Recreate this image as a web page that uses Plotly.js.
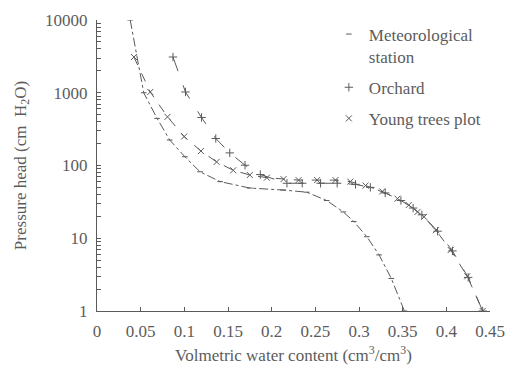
<!DOCTYPE html>
<html>
<head>
<meta charset="utf-8">
<script src="https://cdn.plot.ly/plotly-3.0.1.min.js"></script>
<style>html,body{margin:0;padding:0;background:#fff;}#chart{width:509px;height:370px;}</style>
</head>
<body>
<div id="chart"></div>
<script>
// Meteorological station
const metX = [0.038, 0.0535, 0.0688, 0.0833, 0.1006, 0.118, 0.141, 0.175, 0.213, 0.24, 0.263, 0.282, 0.294, 0.309, 0.323, 0.337, 0.352];
const metY = [10000, 1000, 444, 224, 132, 82, 60, 49, 46, 43, 33, 23, 17, 10.5, 5.9, 2.8, 1];
// Orchard
const orchX = [0.087, 0.1013, 0.1197, 0.136, 0.152, 0.1695, 0.187, 0.2175, 0.235, 0.256, 0.275, 0.296, 0.313, 0.33, 0.348, 0.362, 0.372, 0.39, 0.407, 0.425, 0.4416];
const orchY = [3100, 1025, 457, 235, 149, 101, 75, 57, 57, 57, 57, 55, 50, 42, 33, 26, 21, 12.5, 6.7, 2.9, 1];
// Young trees plot
const youngX = [0.0423, 0.061, 0.0807, 0.0998, 0.119, 0.137, 0.156, 0.175, 0.1945, 0.2136, 0.2308, 0.252, 0.273, 0.290, 0.3075, 0.3266, 0.344, 0.357, 0.367, 0.3745, 0.388, 0.405, 0.424, 0.4416];
const youngY = [3100, 1025, 466, 250, 158, 112, 86, 74, 68, 65, 63, 63, 63, 60, 53, 44, 35, 28.6, 23, 19.7, 12.9, 6.9, 3, 1];

const seriesNames = ['Meteorological<br>station', 'Orchard', 'Young trees plot'];
const xTickVals = [0, 0.05, 0.1, 0.15, 0.2, 0.25, 0.3, 0.35, 0.4, 0.45];
const xTickText = ['0', '0.05', '0.1', '0.15', '0.2', '0.25', '0.3', '0.35', '0.4', '0.45'];
const yDecades = [1, 10, 100, 1000, 10000];
const yDecadeText = ['1', '10', '100', '1000', '10000'];

const yTickVals = [], yTickText = [];
yDecades.forEach((d, i) => {
  yTickVals.push(d); yTickText.push(yDecadeText[i]);
  if (i < yDecades.length - 1) {
    for (let k = 2; k <= 9; k++) { yTickVals.push(d * k); yTickText.push(''); }
  }
});

const ink = '#5a5a5a';
const txt = '#5c5c5c';
const fontFam = '"Liberation Serif", "DejaVu Serif", serif';

const mk = (sym, sz) => ({symbol: sym, size: sz, color: ink, line: {width: 1, color: ink}});

const data = [
  {x: metX, y: metY, mode: 'lines+markers', showlegend: false,
   line: {color: ink, width: 1, dash: 'dashdot'}, marker: mk('line-ew-open', 4)},
  {x: orchX, y: orchY, mode: 'lines+markers', showlegend: false,
   line: {color: ink, width: 1, dash: 'longdash'}, marker: mk('cross-thin-open', 6)},
  {x: youngX, y: youngY, mode: 'lines+markers', showlegend: false,
   line: {color: ink, width: 1, dash: 'dash'}, marker: mk('x-thin-open', 6)},
  {x: [null], y: [null], mode: 'markers', name: seriesNames[0], legendgroup: 'a', marker: mk('line-ew-open', 4)},
  {x: [null], y: [null], mode: 'markers', name: seriesNames[1], legendgroup: 'b', marker: mk('cross-thin-open', 6)},
  {x: [null], y: [null], mode: 'markers', name: seriesNames[2], legendgroup: 'c', marker: mk('x-thin-open', 6)}
];

const layout = {
  width: 509, height: 370,
  margin: {l: 97, r: 19, t: 20, b: 59},
  paper_bgcolor: '#fff', plot_bgcolor: '#fff',
  font: {family: fontFam, size: 17, color: txt},
  showlegend: true,
  legend: {x: 0.59, xanchor: 'left', y: 1.012, yanchor: 'top', bgcolor: 'rgba(0,0,0,0)',
           traceorder: 'grouped', tracegroupgap: 6, valign: 'top', itemwidth: 30,
           font: {family: fontFam, size: 17, color: txt}},
  xaxis: {range: [0, 0.45], tickvals: xTickVals, ticktext: xTickText,
          ticks: 'inside', ticklen: 4, tickcolor: ink, showgrid: false, zeroline: false,
          showline: true, linecolor: ink, linewidth: 1, ticklabelstandoff: 5,
          tickfont: {family: fontFam, size: 17, color: txt},
          title: {text: 'Volmetric water content (cm<sup>3</sup>/cm<sup>3</sup>)', standoff: 8,
                  font: {family: fontFam, size: 17, color: txt}}},
  yaxis: {type: 'log', range: [0, 4], tickvals: yTickVals, ticktext: yTickText,
          ticks: 'inside', ticklen: 4, tickcolor: ink, showgrid: false, zeroline: false,
          showline: true, linecolor: ink, linewidth: 1, ticklabelstandoff: 5,
          tickfont: {family: fontFam, size: 17, color: txt},
          title: {text: 'Pressure head (cm  H<sub>2</sub>O)', standoff: 14,
                  font: {family: fontFam, size: 17, color: txt}}}
};

Plotly.newPlot('chart', data, layout, {displayModeBar: false, staticPlot: true});
</script>
</body>
</html>
